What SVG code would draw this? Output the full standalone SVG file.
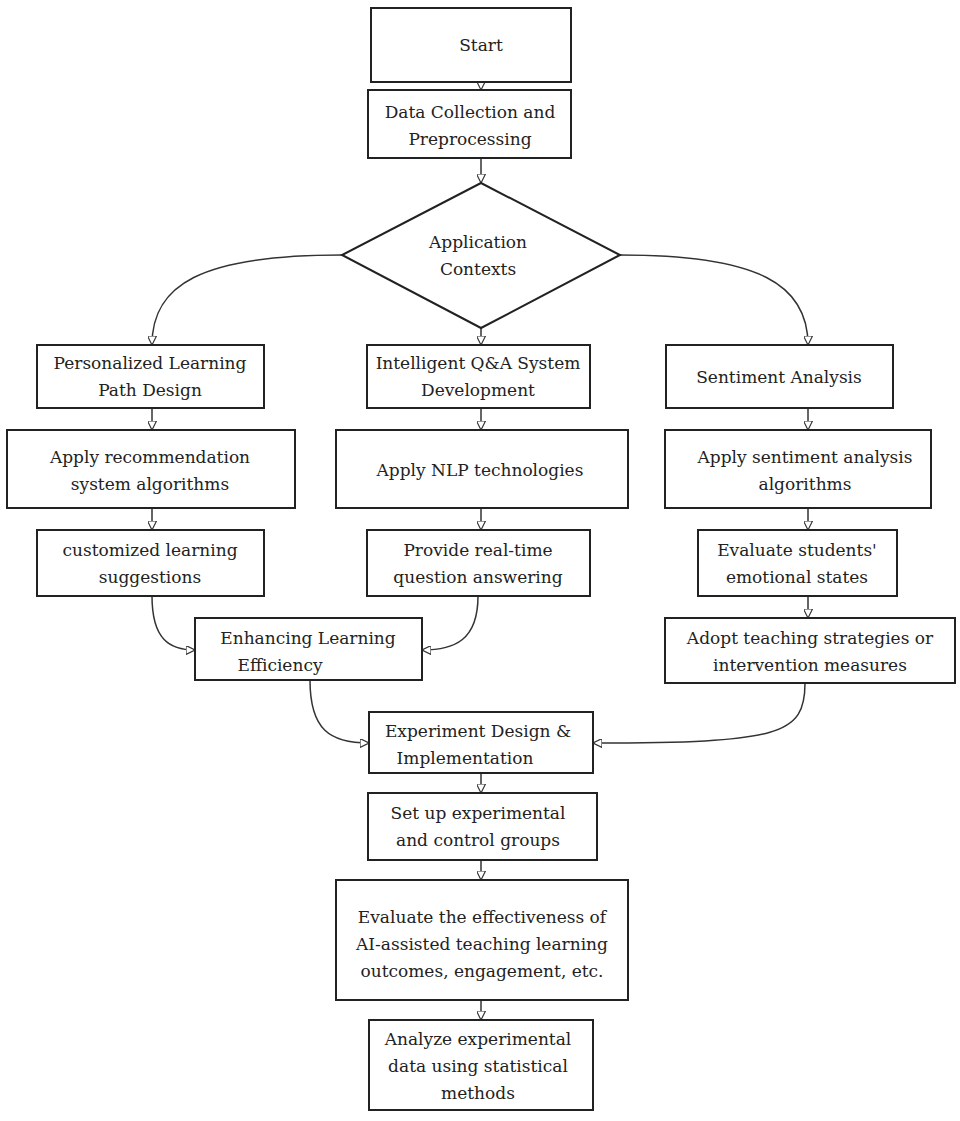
<svg xmlns="http://www.w3.org/2000/svg" width="960" height="1121" viewBox="0 0 960 1121">
<style>
.b{fill:#fff;stroke:#222;stroke-width:2}
.t{font-family:"DejaVu Serif","Liberation Serif",serif;font-size:17px;fill:#222;text-anchor:middle}
.c{fill:none;stroke:#333;stroke-width:1.5;marker-end:url(#a)}
</style>
<defs><marker id="a" viewBox="0 0 10 10" refX="10" refY="5" markerWidth="9" markerHeight="9" orient="auto" markerUnits="userSpaceOnUse"><path d="M0,0L10,5L0,10Z" fill="#fff" stroke="#333" stroke-width="1.3"/></marker></defs>
<rect width="960" height="1121" fill="#fff"/>
<g id="connectors">
<path class="c" d="M481,82V90"/>
<path class="c" d="M481,158V183"/>
<path class="c" d="M481,328V345"/>
<path class="c" d="M342,255C200,255 152,285 152,345"/>
<path class="c" d="M620,255C760,255 808,285 808,345"/>
<path class="c" d="M152,408V430"/><path class="c" d="M481,408V430"/><path class="c" d="M808,408V430"/>
<path class="c" d="M152,508V530"/><path class="c" d="M481,508V530"/><path class="c" d="M808,508V530"/>
<path class="c" d="M808,596V618"/>
<path class="c" d="M152,596C152,640 170,650 195,650"/>
<path class="c" d="M478,596C478,640 455,650 422,650"/>
<path class="c" d="M310,680C310,730 330,743 369,743"/>
<path class="c" d="M805,683C805,735 780,743 593,743"/>
<path class="c" d="M481,773V793"/><path class="c" d="M481,860V880"/><path class="c" d="M481,1000V1020"/>
</g>
<g id="start"><rect class="b" x="371" y="8" width="200" height="74"/><text class="t" x="481" y="51">Start</text></g>
<g id="data"><rect class="b" x="368" y="90" width="203" height="68"/><text class="t" x="470" y="118">Data Collection and</text><text class="t" x="470" y="145">Preprocessing</text></g>
<g id="app"><path class="b" d="M481,183L620,255L481,328L342,255Z"/><text class="t" x="478" y="248">Application</text><text class="t" x="478" y="275">Contexts</text></g>
<g id="p1"><rect class="b" x="37" y="345" width="227" height="63"/><text class="t" x="150" y="369">Personalized Learning</text><text class="t" x="150" y="396">Path Design</text></g>
<g id="p2"><rect class="b" x="367" y="345" width="223" height="63"/><text class="t" x="478" y="369">Intelligent Q&amp;A System</text><text class="t" x="478" y="396">Development</text></g>
<g id="p3"><rect class="b" x="666" y="345" width="227" height="63"/><text class="t" x="779" y="383">Sentiment Analysis</text></g>
<g id="r1"><rect class="b" x="7" y="430" width="288" height="78"/><text class="t" x="150" y="463">Apply recommendation</text><text class="t" x="150" y="490">system algorithms</text></g>
<g id="r2"><rect class="b" x="336" y="430" width="292" height="78"/><text class="t" x="480" y="476">Apply NLP technologies</text></g>
<g id="r3"><rect class="b" x="665" y="430" width="266" height="78"/><text class="t" x="805" y="463">Apply sentiment analysis</text><text class="t" x="805" y="490">algorithms</text></g>
<g id="s1"><rect class="b" x="37" y="530" width="227" height="66"/><text class="t" x="150" y="556">customized learning</text><text class="t" x="150" y="583">suggestions</text></g>
<g id="s2"><rect class="b" x="367" y="530" width="223" height="66"/><text class="t" x="478" y="556">Provide real-time</text><text class="t" x="478" y="583">question answering</text></g>
<g id="s3"><rect class="b" x="698" y="530" width="199" height="66"/><text class="t" x="797" y="556">Evaluate students'</text><text class="t" x="797" y="583">emotional states</text></g>
<g id="enh"><rect class="b" x="195" y="618" width="227" height="62"/><text class="t" x="308" y="644">Enhancing Learning</text><text class="t" x="280" y="671">Efficiency</text></g>
<g id="adopt"><rect class="b" x="665" y="618" width="290" height="65"/><text class="t" x="810" y="644">Adopt teaching strategies or</text><text class="t" x="810" y="671">intervention measures</text></g>
<g id="exp"><rect class="b" x="369" y="712" width="224" height="61"/><text class="t" x="478" y="737">Experiment Design &amp;</text><text class="t" x="465" y="764">Implementation</text></g>
<g id="setup"><rect class="b" x="368" y="793" width="229" height="67"/><text class="t" x="478" y="819">Set up experimental</text><text class="t" x="478" y="846">and control groups</text></g>
<g id="eval"><rect class="b" x="336" y="880" width="292" height="120"/><text class="t" x="482" y="923">Evaluate the effectiveness of</text><text class="t" x="482" y="950">AI-assisted teaching learning</text><text class="t" x="482" y="977">outcomes, engagement, etc.</text></g>
<g id="analyze"><rect class="b" x="369" y="1020" width="224" height="90"/><text class="t" x="478" y="1045">Analyze experimental</text><text class="t" x="478" y="1072">data using statistical</text><text class="t" x="478" y="1099">methods</text></g>
</svg>
